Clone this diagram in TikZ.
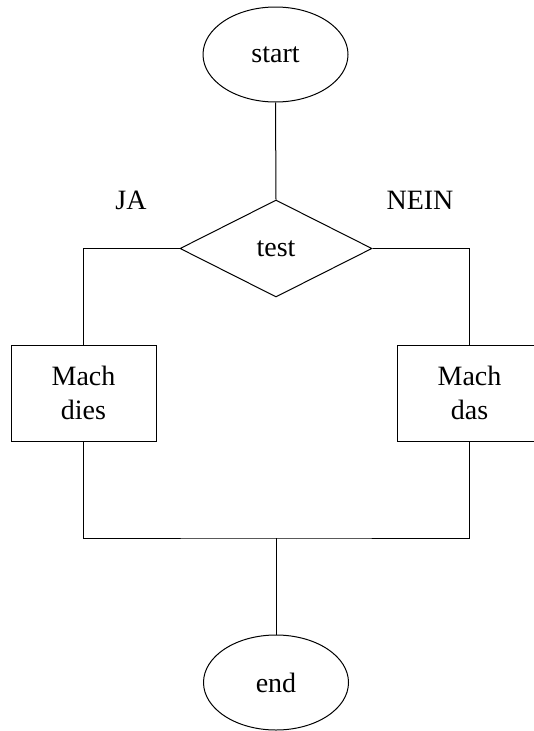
\documentclass[tikz,border=0pt]{standalone}
\usepackage{fontspec}
\setmainfont{Liberation Serif}
\usetikzlibrary{shapes.geometric}
\begin{document}
\begin{tikzpicture}[x=1pt,y=-1pt,
  every node/.style={font=\fontsize{28}{34}\selectfont},
  base/.style={draw, line width=1pt, inner sep=0pt},
  term/.style={base, ellipse, minimum width=145pt, minimum height=95pt},
  decide/.style={base, diamond, minimum width=192pt, minimum height=97pt},
  proc/.style={base, rectangle, minimum width=145pt, minimum height=96pt, align=center},
  lbl/.style={anchor=base, inner sep=0pt},
  conn/.style={line width=1pt}]
\useasboundingbox (0,0) rectangle (534,731);
\node[term] (start) at (275.5,54.5) {start};
\node[decide] (test) at (276,248.5) {test};
\node[proc] (dies) at (83.5,393) {Mach\\dies};
\node[proc] (das) at (469.5,393) {Mach\\das};
\node[term] (end) at (276,682.5) {end};
\node[lbl] (ja) at (131,209) {JA};
\node[lbl] (nein) at (420,209) {NEIN};
\coordinate (m) at (276,538);
\draw[conn] (start.south) -- (test.north);
\draw[conn] (test.west) -| (dies.north);
\draw[conn] (test.east) -| (das.north);
\draw[conn] (dies.south) |- (m) -| (das.south);
\draw[conn] (m) -- (end.north);
\end{tikzpicture}
\end{document}
